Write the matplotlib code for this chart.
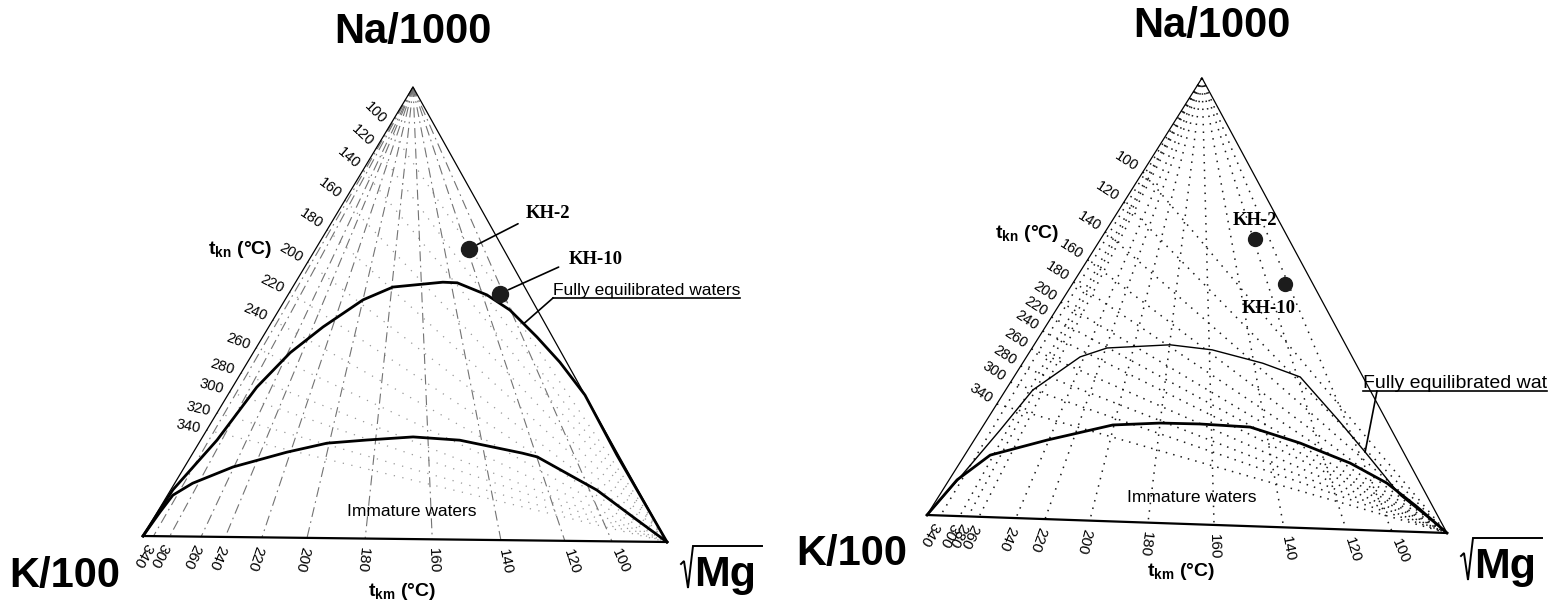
import numpy as np
import matplotlib
matplotlib.use("Agg")
import matplotlib.pyplot as plt

plt.rcParams['font.family'] = ['Liberation Sans', 'DejaVu Sans']
plt.rcParams['mathtext.fontset'] = 'custom'
plt.rcParams['mathtext.rm'] = 'Liberation Sans'
plt.rcParams['mathtext.bf'] = 'Liberation Sans:bold'

# ternary data: fractions of Na/1000 and sqrt(Mg) (K/100 is the rest)
samples = ['KH-2', 'KH-10']
sample_na = [0.643, 0.545]
sample_mg = [0.290, 0.400]

# left diagram
left_tkn_temp = [100, 120, 140, 160, 180, 200, 220, 240, 260, 280, 300, 320, 340]
left_tkn_na = [0.911, 0.864, 0.815, 0.748, 0.682, 0.610, 0.543, 0.481, 0.419, 0.363, 0.321, 0.274, 0.236]
left_tkm_temp = [340, 300, 260, 240, 220, 200, 180, 160, 140, 120, 100]
left_tkm_mg = [0.020, 0.051, 0.111, 0.157, 0.227, 0.313, 0.424, 0.552, 0.683, 0.805, 0.895]
left_full_na = [0, 0.103, 0.214, 0.332, 0.409, 0.467, 0.528, 0.557, 0.569, 0.568, 0.542, 0.509, 0.450, 0.395, 0.323, 0.191, 0]
left_full_mg = [0, 0.004, 0.031, 0.046, 0.070, 0.103, 0.148, 0.190, 0.279, 0.307, 0.377, 0.438, 0.520, 0.592, 0.677, 0.806, 1]
left_imm_na = [0, 0.054, 0.091, 0.118, 0.155, 0.189, 0.210, 0.218, 0.226, 0.220, 0.193, 0.185, 0.113, 0.048, 0]
left_imm_mg = [0, 0.005, 0.010, 0.034, 0.092, 0.177, 0.243, 0.315, 0.399, 0.491, 0.624, 0.657, 0.808, 0.918, 1]

# right diagram
right_tkn_temp = [100, 120, 140, 160, 180, 200, 220, 240, 260, 280, 300, 340]
right_tkn_na = [0.785, 0.716, 0.648, 0.584, 0.533, 0.487, 0.453, 0.421, 0.380, 0.341, 0.304, 0.254]
right_tkm_temp = [340, 300, 280, 260, 240, 220, 200, 180, 160, 140, 120, 100]
right_tkm_mg = [0.026, 0.063, 0.079, 0.100, 0.171, 0.227, 0.313, 0.425, 0.552, 0.686, 0.806, 0.894]
right_full_na = [0, 0.078, 0.196, 0.288, 0.366, 0.388, 0.400, 0.392, 0.366, 0.338, 0.245, 0.175, 0.081, 0]
right_full_mg = [0, 0.016, 0.037, 0.051, 0.101, 0.141, 0.256, 0.341, 0.452, 0.539, 0.661, 0.750, 0.867, 1]
right_imm_na = [0, 0.081, 0.139, 0.177, 0.216, 0.224, 0.225, 0.222, 0.190, 0.149, 0.107, 0.056, 0]
right_imm_mg = [0, 0.015, 0.048, 0.137, 0.243, 0.330, 0.406, 0.504, 0.617, 0.735, 0.828, 0.913, 1]

# triangle corners on the page (pixels, y down)
LEFT = {'K': (143, 536), 'Mg': (667, 542), 'Na': (413, 87)}
RIGHT = {'K': (927, 515), 'Mg': (1447, 533), 'Na': (1202, 78)}


def tern(na, mg, c):
    na = np.asarray(na, float)
    mg = np.asarray(mg, float)
    k = 1 - na - mg
    x = k * c['K'][0] + mg * c['Mg'][0] + na * c['Na'][0]
    y = k * c['K'][1] + mg * c['Mg'][1] + na * c['Na'][1]
    return x, y


def unit(dx, dy):
    n = np.hypot(dx, dy)
    return dx / n, dy / n


def draw_panel(ax, c, tkn_temp, tkn_na, tkm_temp, tkm_mg, full, imm, st):
    K, Mg, Na = c['K'], c['Mg'], c['Na']
    # t_kn lines (to the Mg corner) and t_km lines (from the Na corner)
    for t, na in zip(tkn_temp, tkn_na):
        px, py = tern(na, 0, c)
        ax.plot([px, Mg[0]], [py, Mg[1]], color=st['kn_color'], lw=st['kn_lw'],
                ls=st['kn_ls'], zorder=1)
        ux, uy = unit(Mg[0] - px, Mg[1] - py)
        if st['kn_rot'] is None:
            rot = -0.8 * np.degrees(np.arctan2(uy, ux))
        else:
            rot = st['kn_rot']
        a = np.radians(rot)
        ax.text(px - 7 * np.cos(a), py + 7 * np.sin(a), str(t), rotation=rot,
                rotation_mode='anchor', ha='right', va='center', fontsize=10.5)
    for t, mg in zip(tkm_temp, tkm_mg):
        bx, by = tern(0, mg, c)
        ax.plot([Na[0], bx], [Na[1], by], color=st['km_color'], lw=st['km_lw'],
                ls=st['km_ls'], zorder=1)
        ux, uy = unit(bx - Na[0], by - Na[1])
        rot = -np.degrees(np.arctan2(uy, ux))
        ax.text(bx + 9 * ux, by + 9 * uy, str(t), rotation=rot,
                rotation_mode='anchor', ha='left', va='center', fontsize=11)
    # triangle
    ax.plot([K[0], Na[0], Mg[0]], [K[1], Na[1], Mg[1]], color='k', lw=0.9, zorder=2)
    ax.plot([K[0], Mg[0]], [K[1], Mg[1]], color='k', lw=1.6, zorder=2)
    # curves
    fx, fy = tern(full[0], full[1], c)
    ax.plot(fx, fy, color='k', lw=st['full_lw'], zorder=3, solid_joinstyle='round')
    ix, iy = tern(imm[0], imm[1], c)
    ax.plot(ix, iy, color='k', lw=2.0, zorder=3, solid_joinstyle='round')
    # samples
    sx, sy = tern(sample_na, sample_mg, c)
    ax.plot(sx, sy, 'o', color='#1c1c1c', ms=st['ms'], zorder=4)
    return sx, sy


fig = plt.figure(figsize=(15.51, 6.08), dpi=100)
ax = fig.add_axes([0, 0, 1, 1])
ax.set_xlim(0, 1551)
ax.set_ylim(608, 0)
ax.axis('off')
renderer = fig.canvas.get_renderer()

left_style = dict(kn_color='0.6', kn_lw=0.9, kn_ls=(0, (1, 6)), kn_rot=None,
                  km_color='0.45', km_lw=0.8, km_ls=(0, (9, 4, 1.5, 4)),
                  full_lw=2.0, ms=11.5)
right_style = dict(kn_color='0.1', kn_lw=1.1, kn_ls=(0, (1, 4)), kn_rot=-33,
                   km_color='0.1', km_lw=1.1, km_ls=(0, (1, 4)),
                   full_lw=1.0, ms=10)

lsx, lsy = draw_panel(ax, LEFT, left_tkn_temp, left_tkn_na, left_tkm_temp, left_tkm_mg,
                      (left_full_na, left_full_mg), (left_imm_na, left_imm_mg), left_style)
rsx, rsy = draw_panel(ax, RIGHT, right_tkn_temp, right_tkn_na, right_tkm_temp, right_tkm_mg,
                      (right_full_na, right_full_mg), (right_imm_na, right_imm_mg), right_style)

big = dict(fontsize=30, fontweight='bold', ha='center', va='center')
tkn = r'$\mathbf{t}_{\mathbf{kn}}$ (°C)'
tkm = r'$\mathbf{t}_{\mathbf{km}}$ (°C)'
narrow = ['Liberation Sans Narrow', 'Liberation Sans', 'DejaVu Sans']
serif = ['Liberation Serif', 'DejaVu Serif']


def data_bbox(t):
    return t.get_window_extent(renderer=renderer).transformed(ax.transData.inverted())


def sqrt_mg(x0, base, size):
    # radical sign drawn by hand, then bold Mg under the bar
    t = ax.text(x0 + 13, base, 'Mg', fontsize=size, fontweight='bold', ha='left', va='baseline')
    x1 = data_bbox(t).x1
    top = base - 40
    ax.plot([x0, x0 + 3, x0 + 7, x0 + 12, x1 + 6], [base - 22, base - 25, base + 2, top, top],
            color='k', lw=1.4, solid_joinstyle='miter')


def underlined(x, y, s, size, anchor, bend):
    t = ax.text(x, y, s, fontsize=size, family=narrow, ha='left', va='baseline')
    x1 = min(data_bbox(t).x1, 1551)
    ax.plot([x, x1], [y + 3, y + 3], color='k', lw=1.2)
    ax.plot([anchor[0], bend], [anchor[1], y + 3], color='k', lw=1.2)


# left panel texts
ax.text(413, 32, 'Na/1000', **big)
ax.text(65, 576, 'K/100', **big)
sqrt_mg(681, 586, 31)
ax.text(240, 250, tkn, fontsize=14, fontweight='bold', ha='center', va='center')
ax.text(402, 592, tkm, fontsize=14, fontweight='bold', ha='center', va='center')
ax.text(412, 512, 'Immature waters', fontsize=12.5, family=narrow, ha='center', va='center')
ax.annotate('KH-2', xy=(lsx[0], lsy[0]), xytext=(548, 213), fontsize=13.5, fontweight='bold',
            family=serif, ha='center', va='center',
            arrowprops=dict(arrowstyle='-', lw=1.2, color='k', relpos=(0, 0.1),
                            shrinkA=4, shrinkB=7))
ax.annotate('KH-10', xy=(lsx[1], lsy[1]), xytext=(596, 259), fontsize=13.5, fontweight='bold',
            family=serif, ha='center', va='center',
            arrowprops=dict(arrowstyle='-', lw=1.2, color='k', relpos=(0, 0.3),
                            shrinkA=6, shrinkB=7))
ax_l = tern(0.48, 0.48, LEFT)
underlined(553, 295, 'Fully equilibrated waters', 12.5, ax_l, 553)

# right panel texts
ax.text(1212, 26, 'Na/1000', **big)
ax.text(852, 554, 'K/100', **big)
sqrt_mg(1461, 578, 31)
ax.text(1027, 233, tkn, fontsize=14, fontweight='bold', ha='center', va='center')
ax.text(1181, 572, tkm, fontsize=14, fontweight='bold', ha='center', va='center')
ax.text(1192, 498, 'Immature waters', fontsize=12.5, family=narrow, ha='center', va='center')
ax.text(rsx[0], rsy[0] - 19, 'KH-2', fontsize=13.5, fontweight='bold', family=serif,
        ha='center', va='center')
ax.text(rsx[1] - 16, rsy[1] + 24, 'KH-10', fontsize=13.5, fontweight='bold', family=serif,
        ha='center', va='center')
ax_r = tern(0.175, 0.75, RIGHT)
underlined(1363, 388, 'Fully equilibrated wat', 14, ax_r, 1377)

fig.savefig('out.png', dpi=100)
